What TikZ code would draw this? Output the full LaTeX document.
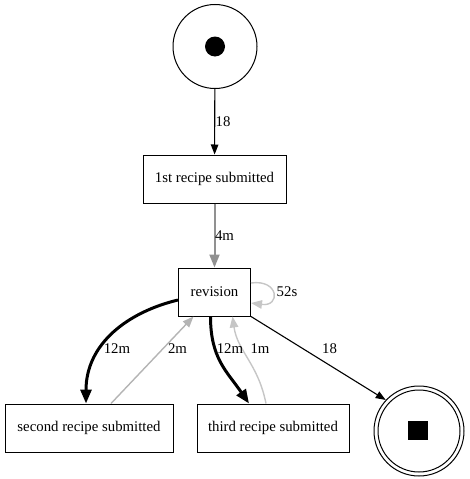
\documentclass[tikz,border=0pt]{standalone}
\usepackage{fontspec}
\setmainfont{Liberation Serif}
\usetikzlibrary{arrows.meta}
\definecolor{midgray}{RGB}{145,145,145}
\definecolor{lightgray}{RGB}{180,180,180}
\definecolor{palegray}{RGB}{198,198,198}
\begin{document}
\begin{tikzpicture}[x=1pt,y=-1pt,
  txt/.style={font=\fontsize{14.8}{17}\selectfont, inner sep=0pt},
  activity/.style={draw, line width=1pt, rectangle, inner sep=0pt,
    minimum height=48pt, font=\fontsize{14.8}{17}\selectfont},
  place/.style={draw, line width=1pt, circle, inner sep=0pt},
  thin arrow/.style={line width=1.1pt, -{Triangle[length=10pt,width=7.5pt]}},
  heavy arrow/.style={line width=3pt, -{Triangle[length=14pt,width=11pt]}},
  gray arrow/.style={line width=2pt, color=midgray, -{Triangle[length=13pt,width=10pt]}},
  light arrow/.style={line width=1.4pt, -{Triangle[length=11pt,width=8.5pt]}}
]
\useasboundingbox (0,0) rectangle (470,479);

% start and end places
\node[place, minimum size=84pt] (start) at (215,46.5) {};
\fill (start.center) circle (10pt);
\node[place, minimum size=90pt] (end) at (419,431) {};
\draw[line width=1pt] (end.center) circle (41pt);
\node[fill=black, minimum width=20pt, minimum height=19pt, inner sep=0pt] (endmark) at (418,430) {};

% activities
\node[activity, minimum width=143pt] (first) at (214.5,179) {1st recipe submitted};
\node[activity, minimum width=72pt] (rev) at (214.5,292) {revision};
\node[activity, minimum width=168pt] (second) at (89,428) {second recipe submitted};
\node[activity, minimum width=152pt] (third) at (273,428) {third recipe submitted};

% arcs
\draw[thin arrow] (start) -- (first);
\draw[gray arrow] (first) -- (rev);
\draw[light arrow, palegray] ([yshift=9pt]rev.east)
  .. controls +(28,-4) and +(30,4) .. ([yshift=-11pt]rev.east);
\draw[heavy arrow] ([yshift=-8pt]rev.west)
  .. controls +(-50,12) and +(0,-60) .. ([xshift=-3pt]second.north);
\draw[light arrow, lightgray] ([xshift=22pt]second.north) -- ([xshift=-21pt]rev.south);
\draw[heavy arrow] ([xshift=-4pt]rev.south)
  .. controls +(0,42) and +(-22,-32) .. ([xshift=-24pt]third.north);
\draw[light arrow, palegray] ([xshift=-7pt]third.north)
  .. controls +(-8,-40) and +(5,35) .. ([xshift=18pt]rev.south);
\draw[thin arrow] (rev.south east) -- (end.137);

% arc labels
\node[txt] (l1) at (223,122) {18};
\node[txt] (l2) at (224.5,236) {4m};
\node[txt] (l3) at (287,292) {52s};
\node[txt] (l4) at (117,349) {12m};
\node[txt] (l5) at (177.5,349) {2m};
\node[txt] (l6) at (230,349) {12m};
\node[txt] (l7) at (260,349) {1m};
\node[txt] (l8) at (329.5,349) {18};
\end{tikzpicture}
\end{document}
